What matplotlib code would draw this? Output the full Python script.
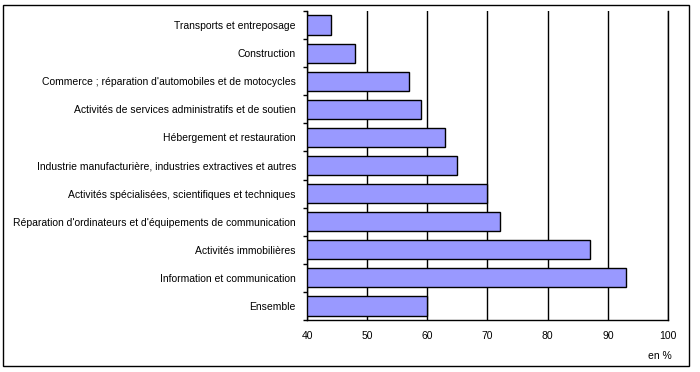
import matplotlib.pyplot as plt
from matplotlib.patches import Rectangle
import numpy as np

# Données (en %)
categories = [
    "Transports et entreposage",
    "Construction",
    "Commerce ; réparation d'automobiles et de motocycles",
    "Activités de services administratifs et de soutien",
    "Hébergement et restauration",
    "Industrie manufacturière, industries extractives et autres",
    "Activités spécialisées, scientifiques et techniques",
    "Réparation d'ordinateurs et d'équipements de communication",
    "Activités immobilières",
    "Information et communication",
    "Ensemble",
]
values = [44, 48, 57, 59, 63, 65, 70, 72, 87, 93, 60]
xticks = [40, 50, 60, 70, 80, 90, 100]

plt.rcParams['font.family'] = ['Liberation Sans', 'DejaVu Sans']

fig = plt.figure(figsize=(7, 3.72), dpi=100)
ax = fig.add_axes([307 / 700, 1 - 320 / 372, 361 / 700, 309 / 372])

y = np.arange(len(categories))
ax.barh(y, [v - 40 for v in values], left=40, height=0.68,
        color='#9999FF', edgecolor='black', linewidth=1.0, zorder=3)

ax.set_xlim(40, 100)
ax.set_ylim(len(categories) - 0.5, -0.5)
ax.set_xticks(xticks)
ax.set_xticklabels([str(t) for t in xticks], fontsize=7.5)
ax.tick_params(axis='x', length=0, pad=8)
ax.set_yticks(y)
ax.set_yticklabels(categories, fontsize=7.5)
ax.tick_params(axis='y', which='major', length=0, pad=8)
ax.set_yticks(np.arange(len(categories) + 1) - 0.5, minor=True)
ax.tick_params(axis='y', which='minor', length=3, width=1, direction='out')

ax.grid(axis='x', color='black', linewidth=1.0, zorder=0)
ax.spines['top'].set_visible(False)
for s in ['left', 'bottom', 'right']:
    ax.spines[s].set_linewidth(1.0)

fig.text(660 / 700, 1 - 356 / 372, 'en %', fontsize=7.5, ha='center', va='center')

# cadre extérieur
fig.patches.append(Rectangle((3 / 700, 6 / 372), 686 / 700, 361 / 372,
                             transform=fig.transFigure, fill=False,
                             edgecolor='black', linewidth=1.0))

fig.savefig('out.png', dpi=100)
